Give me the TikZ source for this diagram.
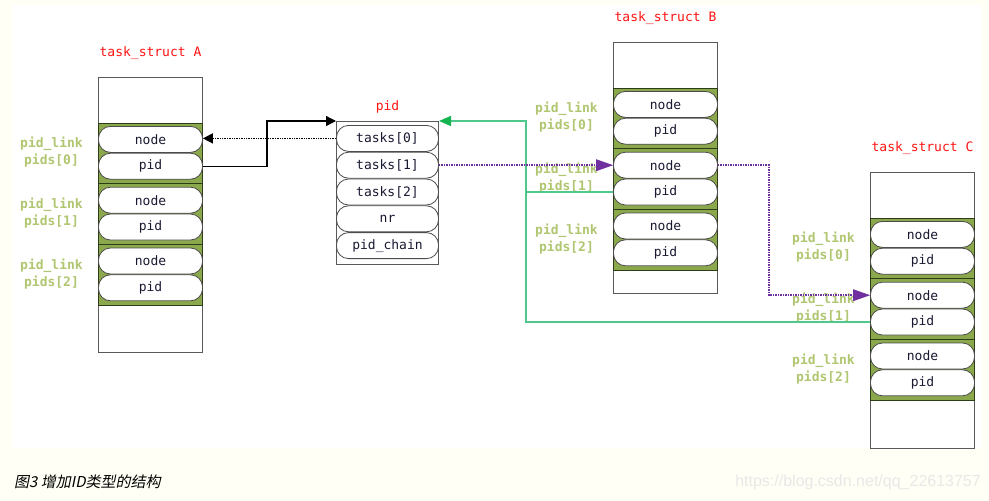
\documentclass[tikz,border=0pt]{standalone}
\usepackage{fontspec}
\setmonofont{DejaVu Sans Mono}
\setsansfont{Liberation Sans}
\newfontfamily\cjkfont[FakeSlant=0.2]{Noto Sans CJK SC}
\usetikzlibrary{arrows.meta,positioning}

\definecolor{paper}{RGB}{255,255,245}
\definecolor{bandgreen}{RGB}{139,168,76}
\definecolor{bandline}{RGB}{45,60,25}
\definecolor{labelgreen}{RGB}{176,198,112}
\definecolor{titlered}{RGB}{255,20,20}
\definecolor{pilltext}{RGB}{25,25,50}
\definecolor{linkgreen}{RGB}{80,200,140}
\definecolor{tipgreen}{RGB}{20,180,80}
\definecolor{linkpurple}{RGB}{112,48,160}

\tikzset{
  structbox/.style={draw=black!65, line width=1pt, fill=white, inner sep=0pt, anchor=north west},
  band/.style={draw=bandline, line width=1pt, fill=bandgreen, minimum width=104pt, minimum height=60.8pt, inner sep=0pt},
  pill/.style={draw=black!70, line width=0.8pt, fill=white, rounded corners=12pt, minimum width=104pt, minimum height=26pt, inner sep=0pt, text=pilltext},
  title/.style={text=titlered, inner sep=0pt},
  linklabel/.style={text=labelgreen, font=\ttfamily\bfseries\fontsize{13}{17}\selectfont, align=center, inner sep=0pt},
  blackptr/.style={draw=black, line width=1.2pt, -{Triangle[length=10pt,width=10pt]}},
  greenptr/.style={draw=linkgreen, line width=1.5pt, -{Triangle[length=12pt,width=10pt,color=tipgreen]}},
  purpleptr/.style={draw=linkpurple, line width=1.5pt, densely dotted, -{Triangle[length=17pt,width=12pt,color=linkpurple,line width=0pt]}}
}

\begin{document}
\begin{tikzpicture}[x=1pt,y=-1pt, every node/.style={font=\ttfamily\fontsize{13}{15}\selectfont}]
    \useasboundingbox (0,0) rectangle (989,501);
    \fill[paper] (0,0) rectangle (989,501);
    \fill[white] (12,5) rectangle (982,448);
    % task_struct A, B, C
    \foreach \s/\x/\y/\h in {A/98/77/275, B/613/42/251, C/870/172/276} {
        \node[structbox, minimum width=104pt, minimum height=\h pt] (\s) at (\x,\y) {};
        \node[title, above=17pt of \s.north] (\s-t) {task\_struct \s};
        \foreach \i in {0,1,2} {
            \pgfmathsetmacro\dy{45.5+60.8*\i}
            \node[band, below=\dy pt of \s.north] (\s-l\i) {};
            \node[pill, below=3.5pt of \s-l\i.north] (\s-n\i) {node};
            \node[pill, below=0pt of \s-n\i] (\s-p\i) {pid};
            \node[linklabel, left=15pt of \s-l\i.west, yshift=1pt] (\s-lab\i) {pid\_link\\pids[\i]};
        }
    }
    % struct pid
    \node[structbox, minimum width=102pt, minimum height=143pt] (P) at (336,121) {};
    \node[title, above=8pt of P.north] (P-t) {pid};
    \node[pill, minimum width=102pt, below=4pt of P.north] (P-0) {tasks[0]};
    \node[pill, minimum width=102pt, below=0pt of P-0] (P-1) {tasks[1]};
    \node[pill, minimum width=102pt, below=0pt of P-1] (P-2) {tasks[2]};
    \node[pill, minimum width=102pt, below=0pt of P-2] (P-3) {nr};
    \node[pill, minimum width=102pt, below=0pt of P-3] (P-4) {pid\_chain};
    % links
    \draw[blackptr] (A-p0.east) -- ++(64,0) |- (P.north west);
    \draw[blackptr, line width=1.4pt, densely dotted] (P-0.west) -- (P-0.west -| A-n0.east);
    \coordinate (gx) at (526,121);
    \draw[greenptr] (C-p1.west) -| (gx) -- (P.north east);
    \draw[draw=linkgreen, line width=1.5pt] (B-p1.west) -- (B-p1.west -| gx);
    \draw[purpleptr] (P-1.east) -- (P-1.east -| B-n1.west);
    \draw[purpleptr] (B-n1.east) -- ++(51,0) |- (C-n1.west);
    % caption
    \node[anchor=west, inner sep=0pt, font=\cjkfont\fontsize{15}{17}\selectfont] (cap) at (14,482) {图3 增加ID类型的结构};
    \node[anchor=east, inner sep=0pt, text=black!9, font=\sffamily\fontsize{16}{18}\selectfont] (wm) at (981,482) {https://blog.csdn.net/qq\_22613757};
\end{tikzpicture}
\end{document}
